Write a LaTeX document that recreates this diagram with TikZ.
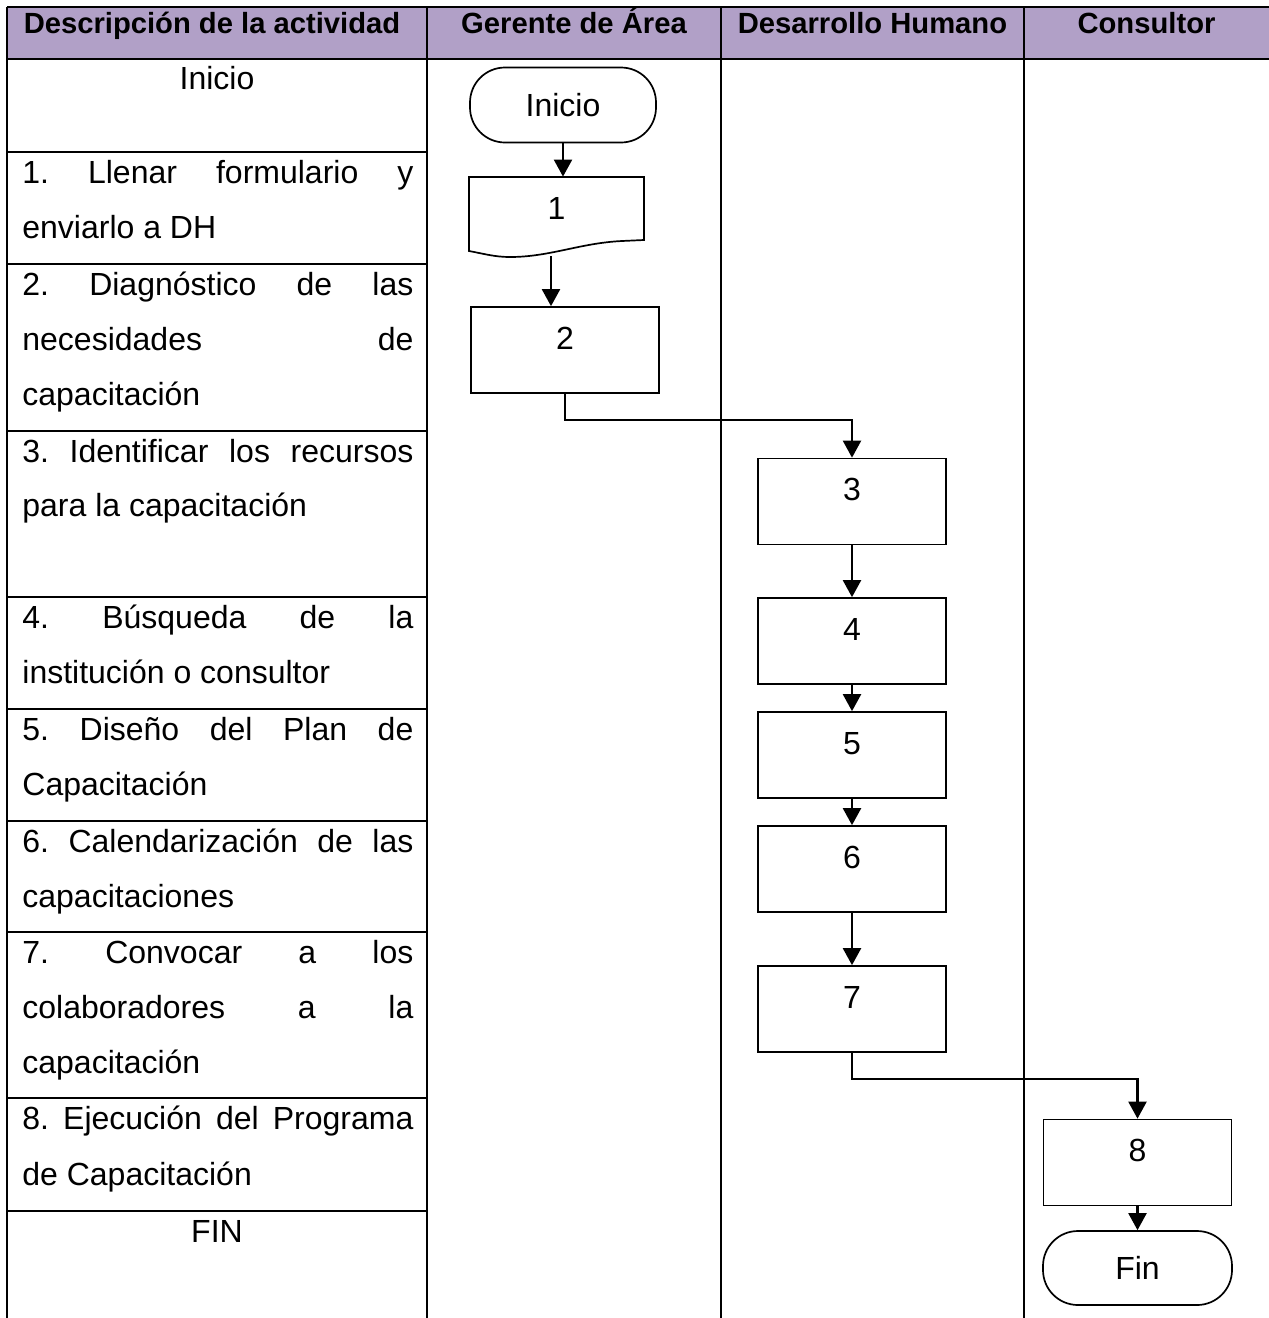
\documentclass[tikz,border=0pt]{standalone}
\usepackage{fontspec}
\setmainfont{Liberation Sans}
\usetikzlibrary{arrows.meta}
\definecolor{hdrpurple}{RGB}{177,160,199}
\frenchspacing
\newcommand\jline[1]{\makebox[195.5pt][s]{#1}}
\begin{document}
\begin{tikzpicture}[x=0.5pt,y=-0.5pt,
  grid/.style={line width=1.25pt},
  shp/.style={draw, line width=0.85pt},
  box/.style={shp, minimum width=94pt, minimum height=43pt, inner sep=0pt},
  term/.style={shp, rounded corners=17.5pt, minimum width=93pt, minimum height=37.5pt, inner sep=0pt, font=\fontsize{16pt}{19pt}\selectfont},
  num/.style={inner sep=0pt, font=\fontsize{16pt}{19pt}\selectfont},
  arr/.style={line width=1.1pt, -{Triangle[length=8.5pt,width=9pt]}},
  dtxt/.style={anchor=base west, inner sep=0pt, font=\fontsize{16pt}{19pt}\selectfont},
  hdr/.style={anchor=base, inner sep=0pt, font=\bfseries\fontsize{14.6pt}{17pt}\selectfont}
]
\useasboundingbox (0,0) rectangle (1269,1318);
% header
\fill[hdrpurple] (7,7) rectangle (1269,59);
\draw[grid] (7,7) -- (1269,7) (7,59) -- (1269,59);
\foreach \x in {7,427,721,1024} \draw[grid] (\x,7) -- (\x,1318);
\foreach \y in {152,264,431,597,709,821,932,1098,1211} \draw[grid] (7,\y) -- (427,\y);
\node[hdr] (h1) at (212,33) {Descripción de la actividad};
\node[hdr] (h2) at (574,33) {Gerente de Área};
\node[hdr] (h3) at (872.5,33) {Desarrollo Humano};
\node[hdr] (h4) at (1146.5,33) {Consultor};
% description column
\node[dtxt, anchor=base] (t0) at (217,89) {Inicio};
\node[dtxt] (t1a) at (22,183) {\jline{1. Llenar formulario y}};
\node[dtxt] (t1b) at (22,238) {enviarlo a DH};
\node[dtxt] (t2a) at (22,295) {\jline{2. Diagnóstico de las}};
\node[dtxt] (t2b) at (22,350) {\jline{necesidades de}};
\node[dtxt] (t2c) at (22,405) {capacitación};
\node[dtxt] (t3a) at (22,462) {\jline{3. Identificar los recursos}};
\node[dtxt] (t3b) at (22,516) {para la capacitación};
\node[dtxt] (t4a) at (22,628) {\jline{4. Búsqueda de la}};
\node[dtxt] (t4b) at (22,683) {institución o consultor};
\node[dtxt] (t5a) at (22,740) {\jline{5. Diseño del Plan de}};
\node[dtxt] (t5b) at (22,795) {Capacitación};
\node[dtxt] (t6a) at (22,852) {\jline{6. Calendarización de las}};
\node[dtxt] (t6b) at (22,907) {capacitaciones};
\node[dtxt] (t7a) at (22,963) {\jline{7. Convocar a los}};
\node[dtxt] (t7b) at (22,1018) {\jline{colaboradores a la}};
\node[dtxt] (t7c) at (22,1073) {capacitación};
\node[dtxt] (t8a) at (22,1129) {\jline{8. Ejecución del Programa}};
\node[dtxt] (t8b) at (22,1185) {de Capacitación};
\node[dtxt, anchor=base] (t9) at (217,1242) {FIN};
% flow shapes
\node[term] (ini) at (563,105) {Inicio};
\draw[shp] (469,177) -- (644,177) -- (644,240) -- (622,241)
  .. controls (580,243) and (550,257) .. (510,257)
  .. controls (495,257) and (485,254) .. (469,251) -- cycle;
\node[num, minimum width=87.5pt, minimum height=31.5pt] (doc) at (556.5,208.5) {1};
\coordinate (docb) at (551,256);
\node[box] (b2) at (565,350) {};
\node[num] (n2) at ([yshift=-16pt]b2.north) {2};
\node[box] (b3) at (852,501.5) {};
\node[num] (n3) at ([yshift=-16pt]b3.north) {3};
\node[box] (b4) at (852,641) {};
\node[num] (n4) at ([yshift=-16pt]b4.north) {4};
\node[box] (b5) at (852,755) {};
\node[num] (n5) at ([yshift=-16pt]b5.north) {5};
\node[box] (b6) at (852,869) {};
\node[num] (n6) at ([yshift=-16pt]b6.north) {6};
\node[box] (b7) at (852,1009) {};
\node[num] (n7) at ([yshift=-16pt]b7.north) {7};
\node[box] (b8) at (1137.5,1162.5) {};
\node[num] (n8) at ([yshift=-16pt]b8.north) {8};
\node[term, minimum width=94.5pt, minimum height=37pt] (fin) at (1137.5,1268) {Fin};
% connectors
\draw[arr] (ini.south) -- (ini.south |- doc.north);
\draw[arr] (docb) -- (docb |- b2.north);
\draw[arr] (b2.south) -- ++(0,26) -| (b3.north);
\draw[arr] (b3.south) -- (b4.north);
\draw[arr] (b4.south) -- (b5.north);
\draw[arr] (b5.south) -- (b6.north);
\draw[arr] (b6.south) -- (b7.north);
\draw[arr] (b7.south) -- ++(0,26) -| (b8.north);
\draw[arr] (b8.south) -- (fin.north);
\end{tikzpicture}
\end{document}
